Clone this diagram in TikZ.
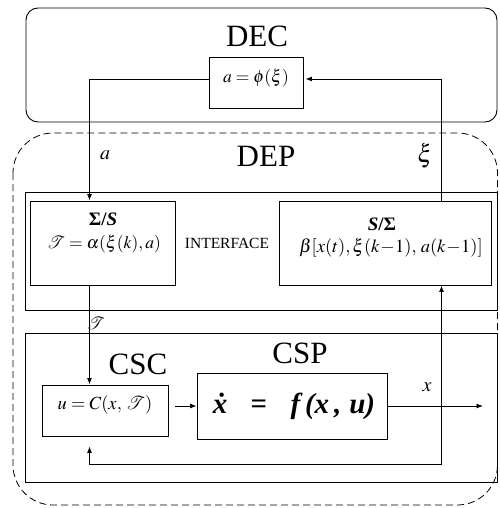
\documentclass[tikz,border=0pt]{standalone}
\usepackage{mathptmx}
\usepackage{fontspec}
\setmainfont{Liberation Serif}
\newfontfamily\tnr{Liberation Serif}
\usetikzlibrary{arrows.meta}
\tikzset{
  frame/.style={draw, line width=0.9pt},
  box/.style={draw, line width=0.9pt, inner sep=0pt},
  arr/.style={line width=0.9pt, -{Latex[length=6.5pt,width=5pt]}},
  big/.style={font=\tnr\fontsize{31}{31}\selectfont, inner sep=0pt},
  mth/.style={font=\fontsize{17.5}{17.5}\selectfont, inner sep=0pt},
}
\begin{document}
\begin{tikzpicture}[x=1pt,y=-1pt]
\useasboundingbox (0,0) rectangle (499,508);
% DEC
\draw[frame, rounded corners=12pt] (26,8) rectangle (497,122);
\node[big] (dec) at (257,36) {DEC};
\node[box, minimum width=94pt, minimum height=51pt] (phi) at (256,82.5) {};
\node[mth] (phit) at (256,78) {$a=\phi(\xi)$};
% DEP
\draw[line width=0.8pt, dash pattern=on 7pt off 4pt, rounded corners=40pt] (13,133) rectangle (497.5,505);
\node[big] (dep) at (266,156) {DEP};
% interface frame
\draw[frame] (25,192) rectangle (497,310);
\node[box, minimum width=145pt, minimum height=84pt] (sig) at (102.5,243) {};
\node[font=\tnr\fontsize{19}{19}\selectfont\bfseries, inner sep=0pt] (sigt1) at (103,219) {Σ/\textit{S}};
\node[mth] (sigt2) at (104,244) {$\mathcal{T}=\alpha(\xi(k),a)$};
\node[font=\tnr\fontsize{15.5}{15.5}\selectfont, inner sep=0pt] (intf) at (227,243) {INTERFACE};
\node[box, minimum width=212pt, minimum height=84pt] (sig2) at (385,243) {};
\node[font=\tnr\fontsize{19}{19}\selectfont\bfseries, inner sep=0pt] (sig2t1) at (382,224) {\textit{S}/Σ};
\node[font=\fontsize{18.5}{18.5}\selectfont, inner sep=0pt] (sig2t2) at (391,248) {$\beta[x(t),\xi(k\!-\!1),\,a(k\!-\!1)]$};
% plant frame
\draw[frame] (25,333) rectangle (497,482);
\node[big] (csc) at (138,364) {CSC};
\node[big] (csp) at (300,353) {CSP};
\node[box, minimum width=126pt, minimum height=51pt] (ub) at (105,410.5) {};
\node[font=\fontsize{18.5}{18.5}\selectfont, inner sep=0pt] (ubt) at (105,405) {$u=C(x,\,\mathcal{T})$};
\node[box, minimum width=190pt, minimum height=66pt] (fb) at (292,406) {};
\node[font=\tnr\fontsize{29}{29}\selectfont\bfseries\itshape, inner sep=0pt] (fbt) at (294,406) {\.x\;\; {\upshape =}\;\; f\,(x\,,\;u)};
% labels
\node[font=\fontsize{20}{20}\selectfont, inner sep=0pt] (la) at (105,155) {$a$};
\node[font=\fontsize{25}{25}\selectfont, inner sep=0pt] (lxi) at (425,156) {$\xi$};
\node[mth] (lt) at (96,323) {$\mathcal{T}$};
\node[font=\fontsize{20}{20}\selectfont, inner sep=0pt] (lx) at (427,387) {$x$};
% coordinates
\coordinate (c1) at (89.5,79);
\coordinate (c2) at (441.5,79);
\coordinate (out) at (483,406);
\coordinate (f1) at (441.5,464);
\coordinate (f2) at (89.5,464);
% connectors
\draw[arr] (phi.west |- c1) -- (c1) -- (c1 |- sig.north);
\draw[arr] (c2 |- sig2.north) -- (c2) -- ([xshift=2pt]phi.east |- c2);
\draw[arr] (c1 |- sig.south) -- (c1 |- ub.north);
\draw[arr, shorten <=7pt] (ub.east |- fb.west) -- (fb.west);
\draw[arr] (fb.east) -- (out);
\draw[arr] (f1) -- (f1 |- sig2.south);
\draw[arr] (f1) -- (f2) -- ([yshift=-10pt]f2 |- ub.south);
\end{tikzpicture}
\end{document}
